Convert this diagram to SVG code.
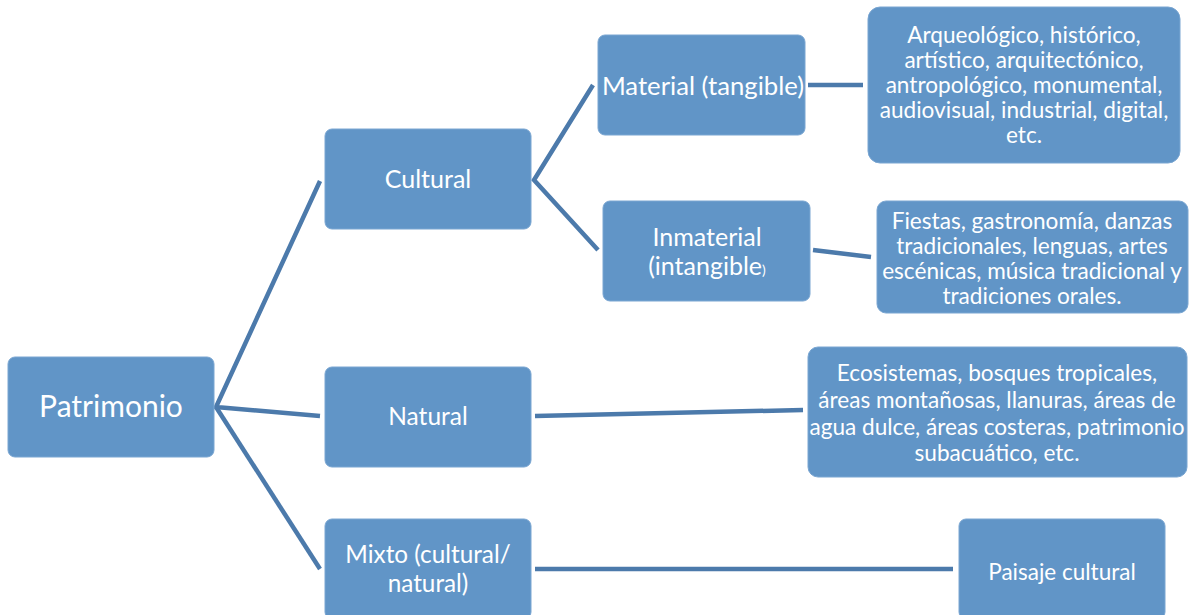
<svg xmlns="http://www.w3.org/2000/svg" width="1192" height="615" viewBox="0 0 1192 615">
  <style>
    .box { fill: #6195c7; stroke: #7aa6d2; stroke-width: 1; }
    .lbl { fill: #ffffff; font-family: Lato, "Liberation Sans", sans-serif; text-anchor: middle; }
    .big { font-size: 30px; }
    .mid { font-size: 25px; }
    .sm { font-size: 22.6px; }
    .link { stroke: #4c7aab; stroke-width: 4.5; fill: none; stroke-linecap: butt; stroke-linejoin: miter; }
  </style>
  <rect width="1192" height="615" fill="#ffffff"/>

  <!-- connectors -->
  <g id="connectors">
    <polyline class="link" points="320,181 216,407 320,416"/>
    <line class="link" x1="216" y1="407" x2="320" y2="569"/>
    <polyline class="link" points="593,85 534,180 598,250"/>
    <line class="link" x1="808" y1="85" x2="863" y2="85"/>
    <line class="link" x1="813" y1="250" x2="871" y2="257"/>
    <line class="link" x1="535" y1="416" x2="803" y2="410"/>
    <line class="link" x1="535" y1="569" x2="953" y2="569"/>
  </g>

  <g id="patrimonio">
    <rect class="box" x="8" y="357" width="206" height="100" rx="7"/>
    <text class="lbl big" x="111" y="417">Patrimonio</text>
  </g>

  <g id="cultural">
    <rect class="box" x="325" y="129" width="206" height="100" rx="7"/>
    <text class="lbl mid" x="428" y="188">Cultural</text>
  </g>

  <g id="natural">
    <rect class="box" x="325" y="367" width="206" height="100" rx="7"/>
    <text class="lbl" x="428" y="425" style="font-size:24.5px">Natural</text>
  </g>

  <g id="mixto">
    <rect class="box" x="325" y="519" width="206" height="100" rx="7"/>
    <text class="lbl" x="428" y="563" style="font-size:24.3px">Mixto (cultural/</text>
    <text class="lbl" x="428" y="592" style="font-size:24.3px">natural)</text>
  </g>

  <g id="material">
    <rect class="box" x="598" y="35" width="207" height="100" rx="7"/>
    <text class="lbl" x="703" y="95" style="font-size:25.7px">Material (tangible)</text>
  </g>

  <g id="inmaterial">
    <rect class="box" x="603" y="201" width="207" height="100" rx="7"/>
    <text class="lbl mid" x="707" y="246">Inmaterial</text>
    <text class="lbl mid" x="707" y="275">(intangible<tspan style="font-size:14px">)</tspan></text>
  </g>

  <g id="material-tipos">
    <rect class="box" x="868" y="7" width="312" height="156" rx="12"/>
    <text class="lbl sm" x="1024" y="43">Arqueológico, histórico,</text>
    <text class="lbl sm" x="1024" y="68">artístico, arquitectónico,</text>
    <text class="lbl sm" x="1024" y="93">antropológico, monumental,</text>
    <text class="lbl sm" x="1024" y="118">audiovisual, industrial, digital,</text>
    <text class="lbl sm" x="1024" y="143">etc.</text>
  </g>

  <g id="inmaterial-tipos">
    <rect class="box" x="877" y="201" width="311" height="112" rx="9"/>
    <text class="lbl sm" x="1032" y="229">Fiestas, gastronomía, danzas</text>
    <text class="lbl sm" x="1032" y="254">tradicionales, lenguas, artes</text>
    <text class="lbl sm" x="1032" y="279">escénicas, música tradicional y</text>
    <text class="lbl sm" x="1032" y="304">tradiciones orales.</text>
  </g>

  <g id="natural-tipos">
    <rect class="box" x="808" y="347" width="379" height="130" rx="10"/>
    <text class="lbl sm" x="997" y="381">Ecosistemas, bosques tropicales,</text>
    <text class="lbl sm" x="997" y="408">áreas montañosas, llanuras, áreas de</text>
    <text class="lbl sm" x="997" y="435">agua dulce, áreas costeras, patrimonio</text>
    <text class="lbl sm" x="997" y="461">subacuático, etc.</text>
  </g>

  <g id="paisaje">
    <rect class="box" x="959" y="519" width="206" height="100" rx="7"/>
    <text class="lbl" x="1062" y="580" style="font-size:22.5px">Paisaje cultural</text>
  </g>
</svg>
